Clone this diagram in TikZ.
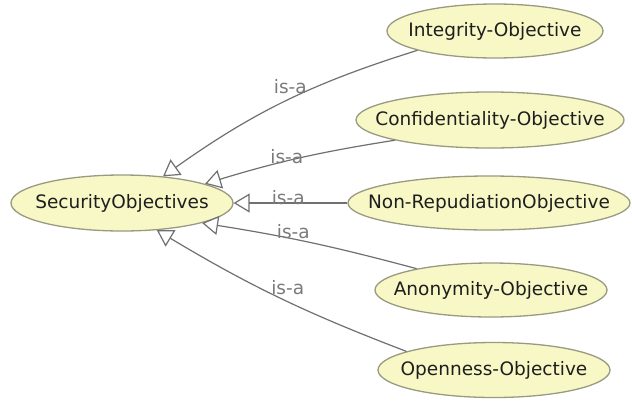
\documentclass[tikz,border=0pt]{standalone}
\usepackage{fontspec}
\setmainfont{DejaVu Sans}
\usetikzlibrary{arrows.meta,shapes.geometric}
\definecolor{classfill}{HTML}{F8F8C6}
\definecolor{classline}{HTML}{9A9A80}
\definecolor{edgegray}{HTML}{707070}
\definecolor{labelgray}{HTML}{7A7A7A}
\definecolor{textdark}{HTML}{1E1E1E}
% class names are set in a zero-width box so the ellipse keeps its given size
\newcommand{\classname}[1]{\makebox[0pt]{#1}}
\tikzset{
  cls/.style={ellipse, draw=classline, fill=classfill, line width=1.3pt,
    inner sep=0pt, text=textdark, font=\fontsize{18.5}{22}\selectfont},
  isa/.style={draw=edgegray, line width=1.2pt,
    -{Triangle[open, length=16pt, width=19pt, fill=white]}},
  lbl/.style={text=labelgray, font=\fontsize{18.5}{22}\selectfont,
    inner sep=0pt, anchor=base},
}
\begin{document}
\begin{tikzpicture}[x=1pt,y=-1pt]
  \fill[white] (0,0) rectangle (632,400);
  \useasboundingbox (0,0) rectangle (632,400);

  % class nodes
  \node[cls, minimum width=222pt, minimum height=56pt] (sec)    at (122,203) {\classname{SecurityObjectives}};
  \node[cls, minimum width=216pt, minimum height=54pt] (integ)  at (495,31)  {\classname{Integrity-Objective}};
  \node[cls, minimum width=268pt, minimum height=56pt] (conf)   at (490,120) {\classname{Confidentiality-Objective}};
  \node[cls, minimum width=282pt, minimum height=54pt] (nonrep) at (489,203) {\classname{Non-RepudiationObjective}};
  \node[cls, minimum width=232pt, minimum height=54pt] (anon)   at (491,290) {\classname{Anonymity-Objective}};
  \node[cls, minimum width=232pt, minimum height=55pt] (open)   at (494,370) {\classname{Openness-Objective}};

  % subclass relations
  \draw[isa] (integ.194)  to[bend right=9] node[lbl, pos=0.475, yshift=5pt] {is-a} (sec.33);
  \draw[isa] (conf.192)   to[bend right=4] node[lbl, pos=0.57, yshift=-2pt] {is-a} (sec.13);
  \draw[isa] (nonrep.west) -- node[lbl, pos=0.52, yshift=-1pt] {is-a} (sec.east);
  \draw[isa] (anon.164)   to[bend right=3] node[lbl, pos=0.585, yshift=1pt] {is-a} (sec.-14);
  \draw[isa] (open.168)   to[bend left=5]  node[lbl, pos=0.46, yshift=7pt] {is-a} (sec.-38);
\end{tikzpicture}
\end{document}
